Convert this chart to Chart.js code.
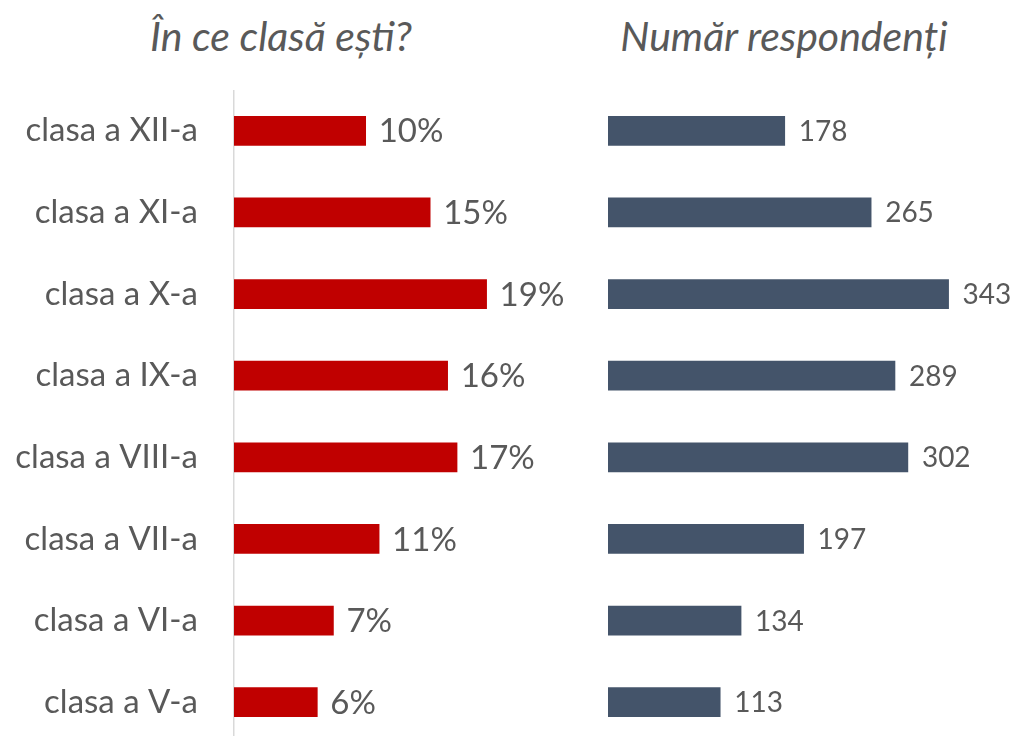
<!DOCTYPE html>
<html><head><meta charset="utf-8">
<script src="https://cdn.jsdelivr.net/npm/chart.js@4.4.1/dist/chart.umd.min.js"></script>
<style>
html,body{margin:0;padding:0;width:1018px;height:736px;overflow:hidden;background:#fff;font-family:Lato,sans-serif;}
.t{position:absolute;top:10px;font-style:italic;font-size:41px;line-height:52px;color:#595959;white-space:nowrap;transform:translateX(-50%);}
#w1{position:absolute;left:0;top:90px;width:600px;height:653px;}
#w2{position:absolute;left:600px;top:90px;width:418px;height:653px;}
</style></head><body>
<div class="t" style="left:281px">În ce clasă ești?</div>
<div class="t" style="left:784px">Număr respondenți</div>
<div id="w1"><canvas id="c1"></canvas></div>
<div id="w2"><canvas id="c2"></canvas></div>
<script>
const categories = ["clasa a XII-a","clasa a XI-a","clasa a X-a","clasa a IX-a","clasa a VIII-a","clasa a VII-a","clasa a VI-a","clasa a V-a"];
const percentValues = [9.8, 14.6, 18.8, 15.9, 16.6, 10.8, 7.4, 6.2];
const percentLabels = ["10%","15%","19%","16%","17%","11%","7%","6%"];
const respondentValues = [178, 265, 343, 289, 302, 197, 134, 113];

const labelPlugin = {
  id: 'barLabels',
  afterDatasetsDraw(chart, args, opts) {
    const ctx = chart.ctx;
    const meta = chart.getDatasetMeta(0);
    ctx.save();
    ctx.font = opts.font;
    ctx.fillStyle = '#595959';
    ctx.textAlign = 'left';
    ctx.textBaseline = 'middle';
    meta.data.forEach((bar, i) => {
      ctx.fillText(opts.labels[i], bar.x + opts.offset, bar.y + 1);
    });
    ctx.restore();
  }
};

new Chart(document.getElementById('c1'), {
  type: 'bar',
  data: { labels: categories, datasets: [{ data: percentValues, backgroundColor: '#C00000', barThickness: 29 }] },
  options: {
    indexAxis: 'y', responsive: true, maintainAspectRatio: false, animation: false,
    layout: { padding: 0 },
    plugins: { legend: { display: false }, tooltip: { enabled: false },
      barLabels: { labels: percentLabels, font: '33px Lato', offset: 13 } },
    scales: {
      x: { display: false, min: 0, max: (600 - 235) / 13.4 },
      y: {
        afterFit(s) { s.width = 234; s.paddingTop = 0; s.paddingBottom = 0; },
        grid: { display: false, drawTicks: false },
        border: { display: true, color: '#D9D9D9', width: 1.5 },
        ticks: { color: '#595959', font: { family: 'Lato', size: 33 }, padding: 36 }
      }
    }
  },
  plugins: [labelPlugin]
});

new Chart(document.getElementById('c2'), {
  type: 'bar',
  data: { labels: categories, datasets: [{ data: respondentValues, backgroundColor: '#44546A', barThickness: 29 }] },
  options: {
    indexAxis: 'y', responsive: true, maintainAspectRatio: false, animation: false,
    layout: { padding: { left: 8 } },
    plugins: { legend: { display: false }, tooltip: { enabled: false },
      barLabels: { labels: respondentValues.map(String), font: '28px Lato', offset: 14 } },
    scales: {
      x: { display: false, min: 0, max: 410 / 0.993 },
      y: { display: false }
    }
  },
  plugins: [labelPlugin]
});
</script>
</body></html>
